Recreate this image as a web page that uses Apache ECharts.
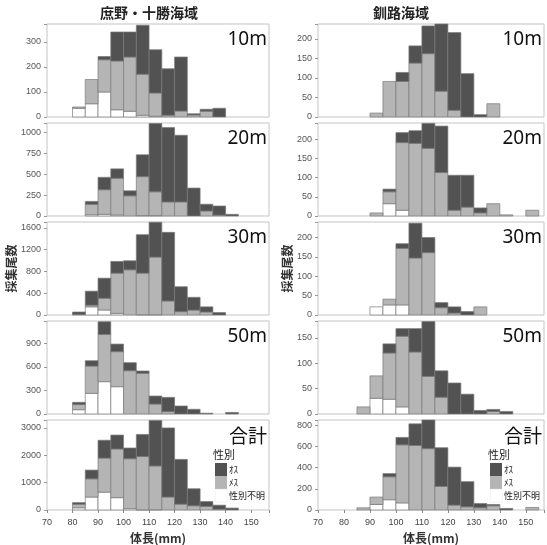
<!DOCTYPE html>
<html><head><meta charset="utf-8">
<script src="https://cdn.jsdelivr.net/npm/echarts@6/dist/echarts.min.js"></script>
<style>html,body{margin:0;padding:0;background:#fff}#c{width:547px;height:545px}</style>
</head><body><div id="c"></div>
<script>
// ---- data ----
const binStarts = [80,85,90,95,100,105,110,115,120,125,130,135,140,145,150];
const binWidth = 5;
const regionNames = ['庶野・十勝海域', '釧路海域'];
const panelLabels = ['10m', '20m', '30m', '50m', '合計'];
const sexNames = ['ｵｽ', 'ﾒｽ', '性別不明'];
const xTicks = [70, 80, 90, 100, 110, 120, 130, 140, 150];

// 庶野・十勝海域 (left)
const L10_unknown = [35,53,100,29,23,7,3,0,0,0,0,0,0,0,0];
const L10_female  = [5,97,129,195,217,164,93,7,24,8,23,0,0,0,0];
const L10_male    = [0,0,13,116,100,196,173,186,216,5,8,35,0,0,0];
const L20_unknown = [0,15,20,12,0,5,5,0,0,0,0,0,0,0,0];
const L20_female  = [0,125,295,440,242,467,285,169,169,0,60,10,0,0,0];
const L20_male    = [0,35,149,113,60,262,819,891,799,335,81,110,20,0,0];
const L30_unknown = [0,150,92,30,0,5,5,0,0,0,0,0,0,0,0];
const L30_female  = [10,30,216,739,831,764,1060,258,60,90,55,0,0,0,0];
const L30_male    = [45,258,369,216,166,708,640,1262,460,235,95,45,0,0,0];
const L50_unknown = [55,263,412,348,0,0,0,0,0,0,0,0,0,0,0];
const L50_female  = [65,348,602,446,552,518,127,30,0,0,0,0,0,0,0];
const L50_male    = [29,68,162,97,102,30,102,182,102,60,10,0,20,0,0];
const LT_unknown  = [80,474,652,451,50,5,10,0,0,0,0,0,0,0,0];
const LT_female   = [130,665,1246,1779,1824,1950,1600,474,213,154,130,28,0,0,0];
const LT_male     = [60,320,652,510,392,807,1664,2527,1637,623,180,148,70,0,0];

// 釧路海域 (right)
const R10_unknown = [0,0,0,0,0,0,0,0,0,0,0,0,0,0,0];
const R10_female  = [0,0,10,91,91,138,162,66,17,0,0,34,0,0,0];
const R10_male    = [0,0,0,0,23,44,71,172,199,111,6,0,0,0,0];
const R20_unknown = [0,0,0,32,15,0,0,0,0,0,0,0,0,0,0];
const R20_female  = [0,0,8,31,176,189,176,113,15,23,8,32,3,0,15];
const R20_male    = [0,0,0,7,26,33,65,121,91,83,13,0,0,0,0];
const R30_unknown = [0,0,21,26,26,0,0,0,0,0,0,0,0,0,0];
const R30_female  = [0,0,0,15,146,147,161,19,5,0,21,0,0,0,0];
const R30_male    = [0,0,0,0,12,90,39,13,16,9,0,0,0,0,0];
const R50_unknown = [0,0,31,29,14,0,0,0,0,0,0,0,0,0,0];
const R50_female  = [0,14,44,91,139,122,74,33,0,0,0,5,0,0,0];
const R50_male    = [0,0,0,18,15,46,108,52,61,39,7,4,5,0,0];
const RT_unknown  = [0,0,52,97,67,0,0,0,0,0,0,0,0,0,0];
const RT_female   = [0,21,70,216,547,608,578,222,46,30,21,40,0,0,24];
const RT_male     = [0,0,0,30,70,204,273,365,358,237,40,12,15,0,0];

// axis ranges per panel
const leftYMax  = [372, 1115, 1710, 1185, 3290];
const leftYInt  = [100, 250, 400, 300, 1000];
const rightYMax = [238, 242, 240, 183, 848];
const rightYInt = [50, 50, 50, 50, 200];

const panels = [
  [[L10_unknown,L10_female,L10_male],[L20_unknown,L20_female,L20_male],[L30_unknown,L30_female,L30_male],[L50_unknown,L50_female,L50_male],[LT_unknown,LT_female,LT_male]],
  [[R10_unknown,R10_female,R10_male],[R20_unknown,R20_female,R20_male],[R30_unknown,R30_female,R30_male],[R50_unknown,R50_female,R50_male],[RT_unknown,RT_female,RT_male]]
];

// ---- style ----
const FILLS = ['#ffffff', '#b5b5b5', '#525252']; // unknown, female, male (bottom→top)
const STROKE = '#7a7a7a';
const JP = '"Noto Sans CJK JP", "Noto Sans", sans-serif';
const NUM = '"Liberation Sans", Arial, sans-serif';
const W = 547;

const colLeft = [47, 318];
const colWidth = [222, 226];
const rowTop = [24, 123, 222, 321, 420];
const rowH = 93;

const grids = [], xAxes = [], yAxes = [], series = [], graphics = [];

function renderBar(params, api) {
  const x0 = api.value(0), x1 = api.value(1), y0 = api.value(2), y1 = api.value(3);
  const p0 = api.coord([x0, y0]);
  const p1 = api.coord([x1, y1]);
  const rect = { x: p0[0], y: p1[1], width: p1[0] - p0[0], height: p0[1] - p1[1] };
  const cs = params.coordSys;
  const clipped = echarts.graphic.clipRectByRect(rect, { x: cs.x, y: cs.y, width: cs.width, height: cs.height });
  if (!clipped) return null;
  return { type: 'rect', shape: clipped, style: api.style({ fill: api.visual('color'), stroke: STROKE, lineWidth: 0.7 }) };
}

for (let c = 0; c < 2; c++) {
  for (let r = 0; r < 5; r++) {
    const gi = c * 5 + r;
    grids.push({ left: colLeft[c], top: rowTop[r], width: colWidth[c], height: rowH,
      show: true, borderColor: '#c4c4c4', borderWidth: 1, backgroundColor: '#fff' });
    const bottom = r === 4;
    xAxes.push({ type: 'value', gridIndex: gi, min: 70, max: 157, interval: 10,
      axisLine: { show: false }, splitLine: { show: false },
      axisTick: { show: bottom, length: 3, lineStyle: { color: '#888' } },
      axisLabel: { show: bottom, fontSize: 9, color: '#444', fontFamily: NUM, margin: 8,
        formatter: v => (xTicks.indexOf(v) >= 0 ? String(v) : '') },
      name: bottom ? '体長(mm)' : '', nameLocation: 'middle', nameGap: 22,
      nameTextStyle: { fontSize: 12, fontWeight: 'bold', color: '#333', fontFamily: JP }
    });
    const ymax = c === 0 ? leftYMax[r] : rightYMax[r];
    const yint = c === 0 ? leftYInt[r] : rightYInt[r];
    yAxes.push({ type: 'value', gridIndex: gi, min: 0, max: ymax, interval: yint,
      axisLine: { show: false }, splitLine: { show: false },
      axisTick: { show: true, length: 3, lineStyle: { color: '#999' } },
      axisLabel: { fontSize: 9, color: '#555', fontFamily: NUM, margin: 6,
        formatter: v => (v % yint === 0 ? String(v) : '') },
      name: r === 2 ? '採集尾数' : '', nameLocation: 'middle', nameGap: c === 0 ? 26 : 24, nameRotate: 90,
      nameTextStyle: { fontSize: 12, fontWeight: 'bold', color: '#333', fontFamily: JP }
    });
    const cats = panels[c][r];
    const base = binStarts.map(() => 0);
    for (let k = 0; k < 3; k++) {
      const data = [];
      cats[k].forEach((v, i) => {
        if (v > 0) data.push([binStarts[i], binStarts[i] + binWidth, base[i], base[i] + v]);
        base[i] += v;
      });
      series.push({ type: 'custom', name: sexNames[2 - k], xAxisIndex: gi, yAxisIndex: gi,
        coordinateSystem: 'cartesian2d', renderItem: renderBar, data: data,
        itemStyle: { color: FILLS[k] }, encode: { x: [0, 1], y: [2, 3] }, silent: true });
    }
    // panel label (right-aligned inside panel)
    graphics.push({ type: 'text', right: W - (colLeft[c] + colWidth[c] - 2), top: rowTop[r] + 6,
      style: { text: panelLabels[r], fontSize: 19, fill: '#111',
        fontFamily: r === 4 ? JP : '"Noto Sans", sans-serif' } });
  }
  // region title
  graphics.push({ type: 'text', left: colLeft[c] + colWidth[c] / 2 - 58, top: 6,
    style: { text: regionNames[c], width: 120, align: 'center', fontSize: 14, fontWeight: 'bold', fill: '#222', fontFamily: JP } });
  // legend
  const lx = c === 0 ? 215 : 490;
  graphics.push({ type: 'text', left: lx - 2, top: 449,
    style: { text: '性別', fontSize: 11, fill: '#222', fontFamily: JP } });
  const legendFills = [FILLS[2], FILLS[1], FILLS[0]];
  for (let k = 0; k < 3; k++) {
    graphics.push({ type: 'rect', left: lx, top: 463 + k * 13, shape: { width: 12, height: 13 },
      style: { fill: legendFills[k], stroke: k === 2 ? '#e6e6e6' : null, lineWidth: 0.5 } });
    graphics.push({ type: 'text', left: lx + 14, top: 465 + k * 13,
      style: { text: sexNames[k], fontSize: 9, fill: '#222', fontFamily: JP } });
  }
}

const chart = echarts.init(document.getElementById('c'), null, { renderer: 'canvas' });
chart.setOption({ animation: false, backgroundColor: '#fff', grid: grids, xAxis: xAxes, yAxis: yAxes, series: series, graphic: graphics });
</script></body></html>
